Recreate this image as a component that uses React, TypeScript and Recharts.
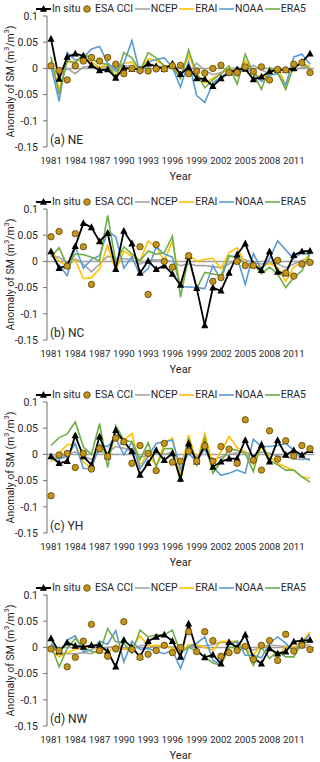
import { LineChart, Line, XAxis, YAxis, ReferenceLine, Legend, Label } from "recharts";

const years = [
  1981, 1982, 1983, 1984, 1985, 1986, 1987, 1988, 1989, 1990, 1991, 1992, 1993, 1994, 1995, 1996, 1997,
  1998, 1999, 2000, 2001, 2002, 2003, 2004, 2005, 2006, 2007, 2008, 2009, 2010, 2011, 2012, 2013,
];

const yTicks = [0.1, 0.05, 0, -0.05, -0.1, -0.15];

// (a) NE
const neInSitu = [0.056, -0.020, 0.022, 0.028, 0.024, 0.006, -0.004, -0.002, -0.018, 0.001, -0.001, -0.002, 0.009, 0.004, -0.001, 0.009, -0.011, 0.002, -0.019, -0.020, -0.034, -0.019, -0.008, -0.002, -0.001, -0.021, -0.016, -0.006, -0.003, -0.003, 0.000, 0.012, 0.028];
const neEsa = [0.005, -0.004, -0.022, 0.005, 0.014, 0.021, 0.014, 0.021, 0.008, -0.010, 0.000, -0.004, -0.005, -0.001, -0.001, 0.005, 0.006, -0.010, -0.005, -0.009, 0.000, 0.006, -0.008, -0.008, 0.003, -0.006, 0.003, -0.022, -0.002, -0.003, 0.008, 0.011, -0.008];
const neNcep = [0.003, -0.015, 0.000, -0.010, 0.003, 0.004, 0.002, 0.004, -0.006, 0.005, 0.004, -0.002, 0.005, 0.005, 0.002, 0.000, 0.003, -0.008, 0.010, -0.004, -0.012, -0.008, -0.003, 0.002, -0.004, 0.006, -0.003, -0.010, 0.002, -0.003, -0.004, 0.002, 0.004];
const neErai = [0.016, -0.040, 0.012, 0.013, 0.017, 0.012, 0.002, 0.008, -0.015, 0.010, 0.012, -0.003, 0.018, 0.015, 0.005, 0.005, -0.015, 0.025, -0.010, -0.028, -0.018, -0.010, 0.002, -0.015, 0.015, -0.005, -0.020, -0.010, 0.000, -0.030, 0.002, 0.010, 0.003];
const neNoaa = [0.005, -0.063, 0.030, 0.016, 0.020, 0.037, 0.042, 0.010, -0.003, 0.010, 0.053, -0.010, 0.012, 0.017, 0.020, 0.002, -0.036, 0.013, -0.052, -0.065, -0.028, -0.016, -0.006, -0.012, 0.003, -0.008, -0.025, -0.013, -0.010, -0.032, 0.022, 0.027, 0.008];
const neEra5 = [0.022, -0.050, 0.015, 0.010, 0.028, 0.018, 0.010, 0.008, -0.018, 0.030, 0.020, -0.005, 0.030, 0.020, 0.005, 0.003, -0.020, 0.035, -0.010, -0.037, -0.022, -0.010, 0.005, -0.030, 0.027, -0.010, -0.040, 0.002, -0.008, -0.040, 0.005, 0.010, -0.002];

// (b) NC
const ncInSitu = [0.019, -0.013, -0.008, 0.029, 0.073, 0.065, 0.038, 0.054, -0.015, 0.058, 0.034, -0.022, 0.001, -0.015, -0.008, -0.024, -0.045, 0.010, -0.051, -0.122, -0.050, -0.056, -0.022, 0.013, 0.034, -0.006, -0.017, 0.019, -0.020, -0.023, 0.012, 0.019, 0.020];
const ncEsa = [0.047, 0.057, -0.009, 0.053, 0.028, -0.044, null, null, null, null, null, 0.028, -0.063, 0.032, 0.000, -0.011, null, 0.011, null, null, -0.038, -0.031, null, 0.000, -0.008, -0.008, null, null, 0.002, -0.022, -0.028, -0.005, -0.002];
const ncNcep = [0.010, 0.008, -0.002, 0.005, -0.005, -0.020, -0.005, 0.010, 0.005, 0.005, 0.003, -0.005, 0.002, 0.003, 0.003, 0.000, -0.008, -0.005, -0.008, -0.008, -0.010, -0.012, -0.005, 0.005, 0.003, -0.003, -0.005, -0.003, -0.005, -0.012, -0.005, 0.002, 0.005];
const ncErai = [0.020, 0.000, -0.008, 0.003, -0.033, -0.031, -0.014, 0.031, -0.018, 0.020, 0.009, 0.001, 0.039, 0.028, 0.001, 0.039, -0.049, 0.013, 0.000, 0.004, 0.006, -0.014, 0.017, 0.026, -0.004, -0.006, -0.011, -0.004, -0.011, -0.038, -0.011, -0.002, 0.014];
const ncNoaa = [0.014, -0.008, -0.027, 0.028, -0.013, 0.004, 0.011, 0.058, 0.047, -0.013, 0.009, -0.027, -0.014, 0.028, 0.014, 0.008, -0.048, -0.049, -0.050, -0.052, -0.008, -0.035, 0.010, 0.008, -0.044, 0.015, -0.015, 0.005, 0.039, 0.022, 0.005, 0.018, 0.012];
const ncEra5 = [0.009, 0.026, -0.008, 0.014, 0.013, 0.008, 0.001, 0.088, -0.002, 0.028, 0.014, 0.001, 0.020, 0.014, 0.017, 0.048, -0.068, 0.008, -0.052, -0.021, -0.024, -0.027, 0.011, 0.008, -0.005, -0.005, -0.024, -0.011, -0.024, -0.050, -0.031, -0.018, 0.014];

// (c) YH
const yhInSitu = [-0.004, -0.017, -0.013, 0.036, -0.004, -0.020, 0.034, -0.004, 0.046, 0.024, 0.006, -0.039, -0.017, 0.008, -0.011, 0.002, -0.047, 0.021, -0.014, 0.018, -0.024, -0.014, -0.008, -0.008, 0.027, -0.008, 0.018, -0.014, 0.027, -0.001, 0.008, -0.001, 0.008];
const yhEsa = [-0.079, -0.001, 0.002, -0.025, 0.002, -0.028, 0.011, -0.004, 0.031, 0.024, -0.017, 0.017, 0.002, -0.031, 0.021, -0.015, -0.013, 0.006, -0.013, 0.016, -0.013, 0.015, 0.010, -0.017, 0.066, -0.011, -0.030, 0.045, -0.009, 0.026, -0.003, 0.017, 0.011];
const yhNcep = [-0.003, -0.005, 0.000, 0.005, -0.003, -0.010, 0.005, 0.003, 0.015, 0.012, 0.005, -0.005, -0.003, 0.003, 0.000, 0.005, -0.015, 0.010, -0.005, 0.008, -0.010, -0.005, 0.000, 0.003, 0.005, -0.002, 0.005, 0.002, -0.003, -0.005, -0.008, -0.010, -0.008];
const yhErai = [-0.014, 0.002, 0.019, 0.019, -0.014, -0.028, 0.019, -0.006, 0.036, 0.027, 0.040, -0.020, 0.002, -0.022, 0.021, 0.031, -0.038, 0.037, -0.014, 0.040, -0.020, 0.005, 0.034, 0.013, 0.005, -0.019, 0.015, -0.004, -0.017, -0.024, -0.030, -0.043, -0.045];
const yhNoaa = [-0.008, -0.008, -0.004, 0.021, -0.027, -0.027, 0.018, 0.015, 0.031, -0.001, 0.024, -0.027, -0.004, 0.021, 0.024, 0.027, -0.028, 0.002, -0.014, 0.011, -0.024, -0.040, -0.036, -0.030, -0.036, 0.029, 0.015, 0.015, 0.017, 0.021, 0.008, -0.006, -0.011];
const yhEra5 = [0.017, 0.032, 0.039, 0.062, 0.014, 0.000, 0.059, -0.025, 0.055, 0.027, 0.024, -0.010, 0.022, -0.023, 0.011, 0.011, -0.053, 0.031, -0.020, 0.031, -0.036, -0.014, 0.011, 0.008, 0.002, -0.033, 0.024, -0.011, -0.020, -0.030, -0.030, -0.043, -0.053];

// (d) NW
const nwInSitu = [0.017, -0.008, 0.009, 0.003, 0.001, 0.004, 0.004, -0.008, -0.037, 0.014, 0.000, -0.018, 0.012, 0.020, 0.024, 0.012, -0.018, 0.045, -0.006, -0.019, -0.014, -0.031, 0.010, 0.000, 0.024, -0.020, -0.031, -0.002, -0.012, -0.008, 0.011, 0.013, 0.014];
const nwEsa = [-0.003, -0.006, -0.037, -0.019, 0.012, 0.044, -0.006, -0.017, -0.003, 0.049, -0.004, -0.019, -0.013, -0.006, 0.004, -0.010, 0.000, 0.030, -0.008, 0.030, 0.013, -0.017, -0.010, -0.006, 0.002, -0.023, 0.004, 0.013, -0.025, 0.025, -0.007, 0.004, -0.004];
const nwNcep = [0.002, -0.010, -0.012, -0.012, -0.010, -0.012, -0.005, 0.000, 0.002, -0.003, -0.005, 0.003, 0.005, 0.000, 0.002, 0.000, -0.005, 0.000, 0.002, 0.003, 0.005, 0.010, 0.008, 0.010, 0.000, -0.005, 0.000, 0.005, 0.003, 0.002, 0.000, 0.003, 0.005];
const nwErai = [-0.005, -0.018, -0.010, -0.004, -0.002, 0.003, -0.008, -0.012, 0.005, -0.003, 0.000, 0.022, 0.003, 0.004, 0.002, -0.002, -0.010, 0.005, 0.005, 0.000, -0.005, 0.011, 0.011, 0.012, -0.002, -0.015, 0.005, 0.000, -0.018, 0.002, 0.000, 0.010, 0.030];
const nwNoaa = [0.008, -0.010, 0.014, 0.022, -0.008, -0.005, 0.012, 0.006, 0.032, -0.028, 0.012, -0.004, -0.002, -0.008, -0.012, -0.005, -0.040, 0.001, 0.008, 0.020, -0.025, -0.032, 0.005, 0.012, -0.015, -0.015, -0.020, 0.008, 0.020, 0.008, -0.008, 0.008, 0.025];
const nwEra5 = [0.004, -0.037, -0.002, 0.017, 0.000, -0.008, -0.011, 0.036, 0.011, 0.008, -0.011, 0.033, 0.020, 0.024, 0.024, 0.033, -0.011, 0.001, -0.008, -0.018, -0.030, -0.034, 0.000, 0.000, 0.000, -0.034, 0.000, -0.021, -0.008, -0.018, -0.018, 0.008, 0.011];

const panels = [
  { name: "(a) NE", inSitu: neInSitu, esa: neEsa, ncep: neNcep, erai: neErai, noaa: neNoaa, era5: neEra5 },
  { name: "(b) NC", inSitu: ncInSitu, esa: ncEsa, ncep: ncNcep, erai: ncErai, noaa: ncNoaa, era5: ncEra5 },
  { name: "(c) YH", inSitu: yhInSitu, esa: yhEsa, ncep: yhNcep, erai: yhErai, noaa: yhNoaa, era5: yhEra5 },
  { name: "(d) NW", inSitu: nwInSitu, esa: nwEsa, ncep: nwNcep, erai: nwErai, noaa: nwNoaa, era5: nwEra5 },
];

const FONT = "Roboto, 'Liberation Sans', sans-serif";
const TEXT = "#262626";
const C = {
  inSitu: "#000000",
  esaFill: "#C4941C",
  esaStroke: "#5a4300",
  ncep: "#A5A5A5",
  erai: "#FFC000",
  noaa: "#5B9BD5",
  era5: "#70AD47",
};

const legendItems = [
  { key: "inSitu", name: "In situ" },
  { key: "esa", name: "ESA CCI" },
  { key: "ncep", name: "NCEP" },
  { key: "erai", name: "ERAI" },
  { key: "noaa", name: "NOAA" },
  { key: "era5", name: "ERA5" },
];

const triangleDot = (props: any) => {
  const { cx, cy, index } = props;
  if (cx == null || cy == null) return <g key={`t${index}`} />;
  return (
    <polygon
      key={`t${index}`}
      points={`${cx},${cy - 4} ${cx - 3.6},${cy + 2.8} ${cx + 3.6},${cy + 2.8}`}
      fill={C.inSitu}
    />
  );
};

const LegendIcon = ({ k }: { k: string }) => {
  if (k === "esa") {
    return (
      <svg width={12} height={10}>
        <circle cx={5} cy={5} r={3.3} fill={C.esaFill} stroke={C.esaStroke} strokeWidth={0.8} />
      </svg>
    );
  }
  const color = (C as any)[k];
  return (
    <svg width={15} height={10}>
      <line x1={0} y1={5} x2={15} y2={5} stroke={color} strokeWidth={k === "inSitu" ? 2 : 1.6} />
      {k === "inSitu" && <polygon points="7.5,1 3.9,7.8 11.1,7.8" fill={C.inSitu} />}
    </svg>
  );
};

const LegendBox = () => (
  <div style={{ position: "relative", width: 320, height: 17, fontFamily: FONT, fontSize: 10.5, color: TEXT }}>
    <div
      style={{
        position: "absolute",
        left: 36,
        width: 270,
        top: 0,
        height: 17,
        display: "flex",
        justifyContent: "space-between",
        alignItems: "center",
      }}
    >
      {legendItems.map((it) => (
        <span key={it.key} style={{ display: "flex", alignItems: "center", whiteSpace: "nowrap" }}>
          <LegendIcon k={it.key} />
          <span style={{ marginLeft: 1 }}>{it.name}</span>
        </span>
      ))}
    </div>
  </div>
);

const YTitle = (props: any) => {
  const vb = props.viewBox || { x: 0, y: 16, width: 47, height: 131 };
  const x = vb.x + 10;
  const y = vb.y + vb.height / 2;
  return (
    <text
      x={x}
      y={y}
      transform={`rotate(-90 ${x} ${y})`}
      textAnchor="middle"
      dominantBaseline="central"
      fontFamily={FONT}
      fontSize={10.5}
      fill={TEXT}
    >
      Anomaly of SM (m<tspan dy={-3} fontSize={7}>3</tspan>
      <tspan dy={3}>/m</tspan>
      <tspan dy={-3} fontSize={7}>3</tspan>
      <tspan dy={3}>)</tspan>
    </text>
  );
};

function Panel({ panel }: { panel: (typeof panels)[number] }) {
  const data = years.map((year, i) => ({
    year,
    inSitu: panel.inSitu[i],
    esa: panel.esa[i],
    ncep: panel.ncep[i],
    erai: panel.erai[i],
    noaa: panel.noaa[i],
    era5: panel.era5[i],
  }));

  return (
    <LineChart
      width={320}
      height={193}
      data={data}
      margin={{ top: 16, right: 6, bottom: 0, left: 0 }}
      style={{ fontFamily: FONT }}
    >
      <Legend
        verticalAlign="middle"
        align="center"
        wrapperStyle={{ top: 0, left: 0, width: 320, height: 17 }}
        content={() => <LegendBox />}
      />
      <XAxis
        dataKey="year"
        interval={2}
        axisLine={false}
        tickLine={false}
        tickSize={6}
        tickMargin={4}
        height={46}
        padding={{ left: 4, right: 4 }}
        tick={{ fontSize: 9.6, fill: TEXT }}
      >
        <Label value="Year" position="insideBottom" offset={13} style={{ fontSize: 11, fill: TEXT, fontFamily: FONT }} />
      </XAxis>
      <YAxis
        width={47}
        type="number"
        domain={[-0.15, 0.1]}
        ticks={yTicks}
        interval={0}
        tickFormatter={(v: number) => String(v)}
        axisLine={{ stroke: "#6f6f6f" }}
        tickLine={{ stroke: "#6f6f6f" }}
        tickSize={4}
        tickMargin={5}
        tick={{ fontSize: 10.5, fill: TEXT }}
      >
        <Label content={YTitle} />
      </YAxis>
      <ReferenceLine y={0} stroke="#a0a0a0" strokeWidth={1.5} />
      <ReferenceLine
        y={-0.15}
        strokeOpacity={0}
        label={{ value: panel.name, position: "insideBottomLeft", offset: 3, fontSize: 12, fill: TEXT }}
      />
      <Line dataKey="ncep" stroke={C.ncep} strokeWidth={1.6} dot={false} activeDot={false} isAnimationActive={false} />
      <Line dataKey="erai" stroke={C.erai} strokeWidth={1.6} dot={false} activeDot={false} isAnimationActive={false} />
      <Line dataKey="noaa" stroke={C.noaa} strokeWidth={1.6} dot={false} activeDot={false} isAnimationActive={false} />
      <Line dataKey="era5" stroke={C.era5} strokeWidth={1.6} dot={false} activeDot={false} isAnimationActive={false} />
      <Line
        dataKey="inSitu"
        stroke={C.inSitu}
        strokeWidth={1.8}
        dot={triangleDot}
        activeDot={false}
        isAnimationActive={false}
      />
      <Line
        dataKey="esa"
        stroke="none"
        strokeWidth={0}
        dot={{ r: 3.2, fill: C.esaFill, stroke: C.esaStroke, strokeWidth: 0.8 }}
        activeDot={false}
        isAnimationActive={false}
      />
    </LineChart>
  );
}

export default function App() {
  return (
    <div
      style={{
        position: "absolute",
        left: 0,
        top: 0,
        width: 320,
        height: 762,
        overflow: "hidden",
        background: "#fff",
      }}
    >
      {panels.map((p) => (
        <Panel key={p.name} panel={p} />
      ))}
    </div>
  );
}
